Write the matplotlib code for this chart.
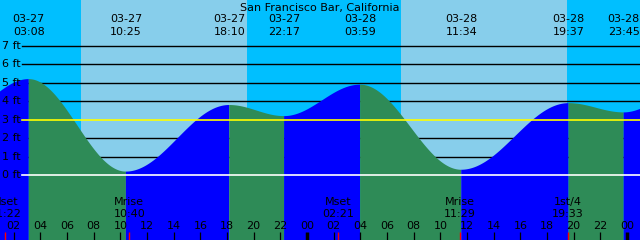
import numpy as np
import matplotlib.pyplot as plt
from matplotlib.transforms import blended_transform_factory

# Tide extremes: day offset from 03-27, clock time, height in feet
tide_day = [-1, 0, 0, 0, 0, 1, 1, 1, 1, 2]
tide_clock = ["21:20", "03:08", "10:25", "18:10", "22:17",
              "03:59", "11:34", "19:37", "23:45", "04:40"]
tide_ft = [3.0, 5.2, 0.2, 3.8, 3.2, 4.9, 0.3, 3.9, 3.4, 4.7]
dates = ["03-26", "03-27", "03-28", "03-29"]

# Sun (daylight spans) per day
sunrise = ["07:03", "07:01"]
sunset = ["19:29", "19:30"]

# Moon events
moon_label = ["Mset", "Mrise", "Mset", "Mrise", "1st/4"]
moon_day = [0, 0, 1, 1, 1]
moon_clock = ["01:22", "10:40", "02:21", "11:29", "19:33"]

levels = [0, 1, 2, 3, 4, 5, 6, 7]
hour_ticks = list(range(2, 49, 2))

W, H = 640, 240
x0, x1 = 0.975, 48.975


def to_hours(day, clock):
    hh, mm = clock.split(":")
    return 24 * day + int(hh) + int(mm) / 60.0


tide_t = [to_hours(d, c) for d, c in zip(tide_day, tide_clock)]
moon_t = [to_hours(d, c) for d, c in zip(moon_day, moon_clock)]

fig = plt.figure(figsize=(6.4, 2.4), dpi=100)
ax = fig.add_axes([0, 0, 1, 1])
ax.set_xlim(x0, x1)
ax.set_ylim(-3.497, 9.476)
ax.set_facecolor("#00BFFF")
for s in ax.spines.values():
    s.set_visible(False)
ax.set_xticks([])
ax.set_yticks([])

# daylight
for d, (r, s) in enumerate(zip(sunrise, sunset)):
    ax.axvspan(to_hours(d, r), to_hours(d, s), color="#87CEEB", lw=0, zorder=0)

# level lines
for lv in levels:
    if lv == 0:
        ax.axhline(lv, xmin=22 / W, xmax=1, color="white", lw=1.2, zorder=4)
    elif lv == 3:
        ax.axhline(lv, xmin=22 / W, xmax=1, color="yellow", lw=1.2, zorder=4)
    else:
        ax.axhline(lv, xmin=22 / W, xmax=1, color="black", lw=1.0, zorder=1)

# tide curve, cosine between extremes; green = falling, blue = rising
for i in range(len(tide_t) - 1):
    t0, t1 = tide_t[i], tide_t[i + 1]
    a, b = tide_ft[i], tide_ft[i + 1]
    t = np.linspace(t0, t1, 80)
    h = (a + b) / 2 + (a - b) / 2 * np.cos(np.pi * (t - t0) / (t1 - t0))
    col = "#2E8B57" if a > b else "#0000FF"
    ax.fill_between(t, h, -10, color=col, lw=0, zorder=2)

bt = blended_transform_factory(ax.transData, ax.transAxes)
at = blended_transform_factory(ax.transAxes, ax.transData)
fs = 8

# level labels
for lv in levels:
    ax.text(2 / W, lv, f"{lv} ft", transform=at, ha="left", va="center",
            fontsize=fs, color="black", zorder=5)

# title
ax.text(0.5, 1 - 8 / H, "San Francisco Bar, California", transform=ax.transAxes,
        ha="center", va="center", fontsize=fs, zorder=5)

# tide labels (only the extremes inside the window)
for d, c, t in zip(tide_day, tide_clock, tide_t):
    if not (x0 < t < x1):
        continue
    ax.text(t, 1 - 19.5 / H, dates[d + 1], transform=bt, ha="center",
            va="center", fontsize=fs, zorder=5)
    ax.text(t, 1 - 31.7 / H, c, transform=bt, ha="center",
            va="center", fontsize=fs, zorder=5)

# moon labels and red ticks
for lab, c, t in zip(moon_label, moon_clock, moon_t):
    ax.text(t, 1 - 202 / H, lab, transform=bt, ha="center", va="center",
            fontsize=fs, zorder=5)
    ax.text(t, 1 - 213.7 / H, c, transform=bt, ha="center", va="center",
            fontsize=fs, zorder=5)
ax.vlines(moon_t, 0, 8 / H, transform=bt, color="red", lw=1.0, zorder=5)

# hour ticks
for hr in hour_ticks:
    lw = 2.5 if hr % 24 == 0 else 0.9
    ax.vlines(hr, 0, 8 / H, transform=bt, color="black", lw=lw, zorder=5)
    ax.text(hr, 14 / H, f"{hr % 24:02d}", transform=bt, ha="center",
            va="center", fontsize=fs, zorder=5)

fig.savefig("out.png", dpi=100)
